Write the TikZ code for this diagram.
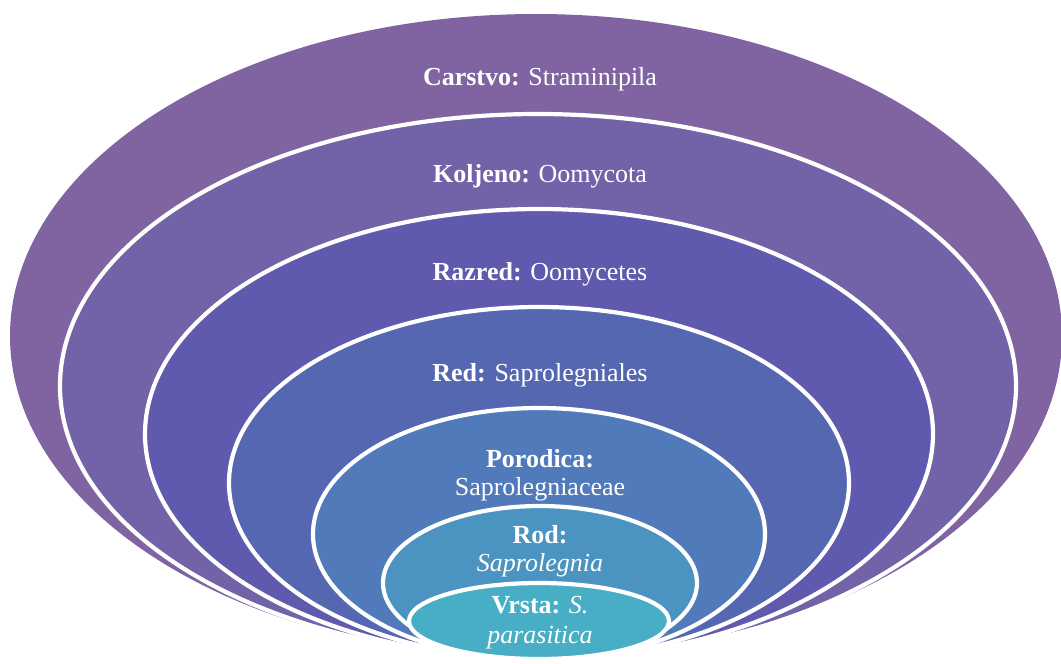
\documentclass[tikz,border=0pt]{standalone}
\usepackage{fontspec}
\setmainfont{Liberation Serif}
\definecolor{cA}{HTML}{8064A2}
\definecolor{cB}{HTML}{7262A7}
\definecolor{cC}{HTML}{605AAE}
\definecolor{cD}{HTML}{5667B2}
\definecolor{cE}{HTML}{507ABA}
\definecolor{cF}{HTML}{4B94C1}
\definecolor{cG}{HTML}{48AEC5}
\begin{document}
\begin{tikzpicture}[x=1pt,y=-1pt,
  ring/.style={draw=white,line width=4.2pt},
  lbl/.style={text=white,font=\fontsize{26}{29}\selectfont,anchor=base,inner sep=0pt}]
\useasboundingbox (0,0) rectangle (1061,664);
\fill[cA] (536,336) ellipse [x radius=526pt, y radius=322pt];
\path[ring,fill=cB] (538,386) ellipse [x radius=478pt, y radius=272pt];
\path[ring,fill=cC] (539,434) ellipse [x radius=394pt, y radius=225pt];
\path[ring,fill=cD] (539,483) ellipse [x radius=310pt, y radius=176pt];
\path[ring,fill=cE] (539,534) ellipse [x radius=226pt, y radius=126pt];
\path[ring,fill=cF] (540,583) ellipse [x radius=157pt, y radius=77pt];
\path[ring,fill=cG] (539,621) ellipse [x radius=130pt, y radius=38pt];
\node[lbl] (carstvo) at (540,85) {\textbf{Carstvo:} Straminipila};
\node[lbl] (koljeno) at (540,182) {\textbf{Koljeno:} Oomycota};
\node[lbl] (razred) at (540,280) {\textbf{Razred:} Oomycetes};
\node[lbl] (red) at (540,381) {\textbf{Red:} Saprolegniales};
\node[lbl] (porodica) at (540,467) {\textbf{Porodica:}};
\node[lbl] (porodica2) at (540,495) {Saprolegniaceae};
\node[lbl] (rod) at (540,543) {\textbf{Rod:}};
\node[lbl] (rod2) at (540,571) {\textit{Saprolegnia}};
\node[lbl] (vrsta) at (540,613) {\textbf{Vrsta:} \textit{S.}};
\node[lbl] (vrsta2) at (540,643) {\textit{parasitica}};
\end{tikzpicture}
\end{document}
